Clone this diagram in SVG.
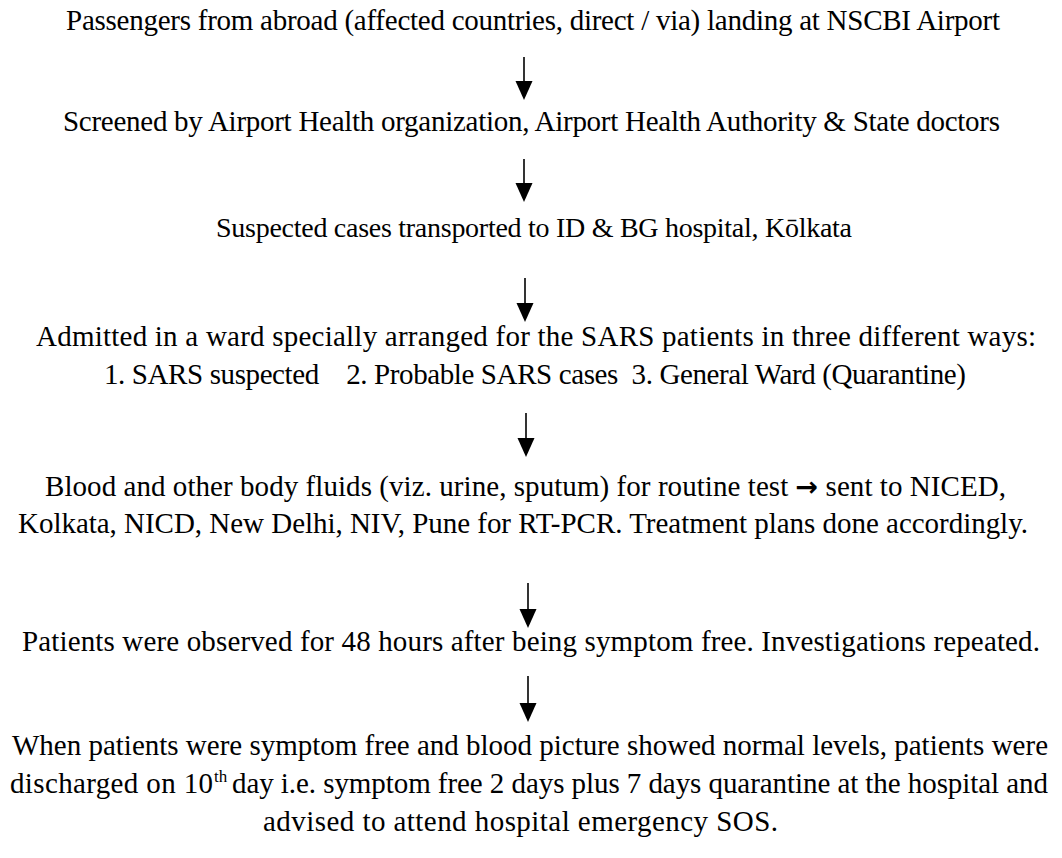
<svg xmlns="http://www.w3.org/2000/svg" width="1062" height="858" viewBox="0 0 1062 858">
  <style>
    .t { font-family: "Liberation Serif", "Times New Roman", serif; font-size: 29px; fill: #000; white-space: pre; }
    .narrow { font-size: 28px; }
    .sup { font-size: 17px; }
    .arr { font-family: "DejaVu Sans", sans-serif; font-weight: bold; font-size: 27px; }
    .conn line { stroke: #000; stroke-width: 1.6; }
    .conn use { fill: #000; stroke: none; }
  </style>
  <defs>
    <!-- filled downward arrowhead, tip at origin -->
    <path id="head" d="M -8.5 -19 L 8.5 -19 L 0 0 Z"/>
  </defs>
  <rect width="1062" height="858" fill="#fff"/>

  <g id="n1"><text class="t" x="66" y="30" textLength="934" lengthAdjust="spacing">Passengers from abroad (affected countries, direct / via) landing at NSCBI Airport</text></g>
  <g id="n2"><text class="t" x="63" y="131" textLength="937" lengthAdjust="spacing">Screened by Airport Health organization, Airport Health Authority &amp; State doctors</text></g>
  <g id="n3"><text class="t narrow" x="216" y="237" textLength="636" lengthAdjust="spacing">Suspected cases transported to ID &amp; BG hospital, Kōlkata</text></g>
  <g id="n4">
    <text class="t" x="36" y="346" textLength="1000" lengthAdjust="spacing">Admitted in a ward specially arranged for the SARS patients in three different ways:</text>
    <text class="t" x="104" y="384" textLength="862" lengthAdjust="spacing">1. SARS suspected    2. Probable SARS cases  3. General Ward (Quarantine)</text>
  </g>
  <g id="n5">
    <text class="t" x="45" y="496" textLength="961" lengthAdjust="spacing">Blood and other body fluids (viz. urine, sputum) for routine test <tspan class="arr">→</tspan> sent to NICED,</text>
    <text class="t" x="18" y="533" textLength="1010" lengthAdjust="spacing">Kolkata, NICD, New Delhi, NIV, Pune for RT-PCR. Treatment plans done accordingly.</text>
  </g>
  <g id="n6"><text class="t" x="22" y="651" textLength="1018" lengthAdjust="spacing">Patients were observed for 48 hours after being symptom free. Investigations repeated.</text></g>
  <g id="n7">
    <text class="t" x="12" y="755" textLength="1036" lengthAdjust="spacing">When patients were symptom free and blood picture showed normal levels, patients were</text>
    <text class="t" x="10" y="793" textLength="203" lengthAdjust="spacing">discharged on 10</text>
    <text class="t sup" x="214" y="782">th</text>
    <text class="t" x="232" y="793" textLength="816" lengthAdjust="spacing">day i.e. symptom free 2 days plus 7 days quarantine at the hospital and</text>
    <text class="t" x="263" y="831" textLength="515" lengthAdjust="spacing">advised to attend hospital emergency SOS.</text>
  </g>

  <g id="connectors" class="conn">
    <line x1="524" y1="57" x2="524" y2="84"/><use href="#head" x="524" y="100"/>
    <line x1="524" y1="159" x2="524" y2="186"/><use href="#head" x="524" y="202"/>
    <line x1="525" y1="278" x2="525" y2="306"/><use href="#head" x="525" y="322"/>
    <line x1="526" y1="413" x2="526" y2="441"/><use href="#head" x="526" y="457"/>
    <line x1="528" y1="583" x2="528" y2="612"/><use href="#head" x="528" y="628"/>
    <line x1="528" y1="676" x2="528" y2="706"/><use href="#head" x="528" y="722"/>
  </g>
</svg>
